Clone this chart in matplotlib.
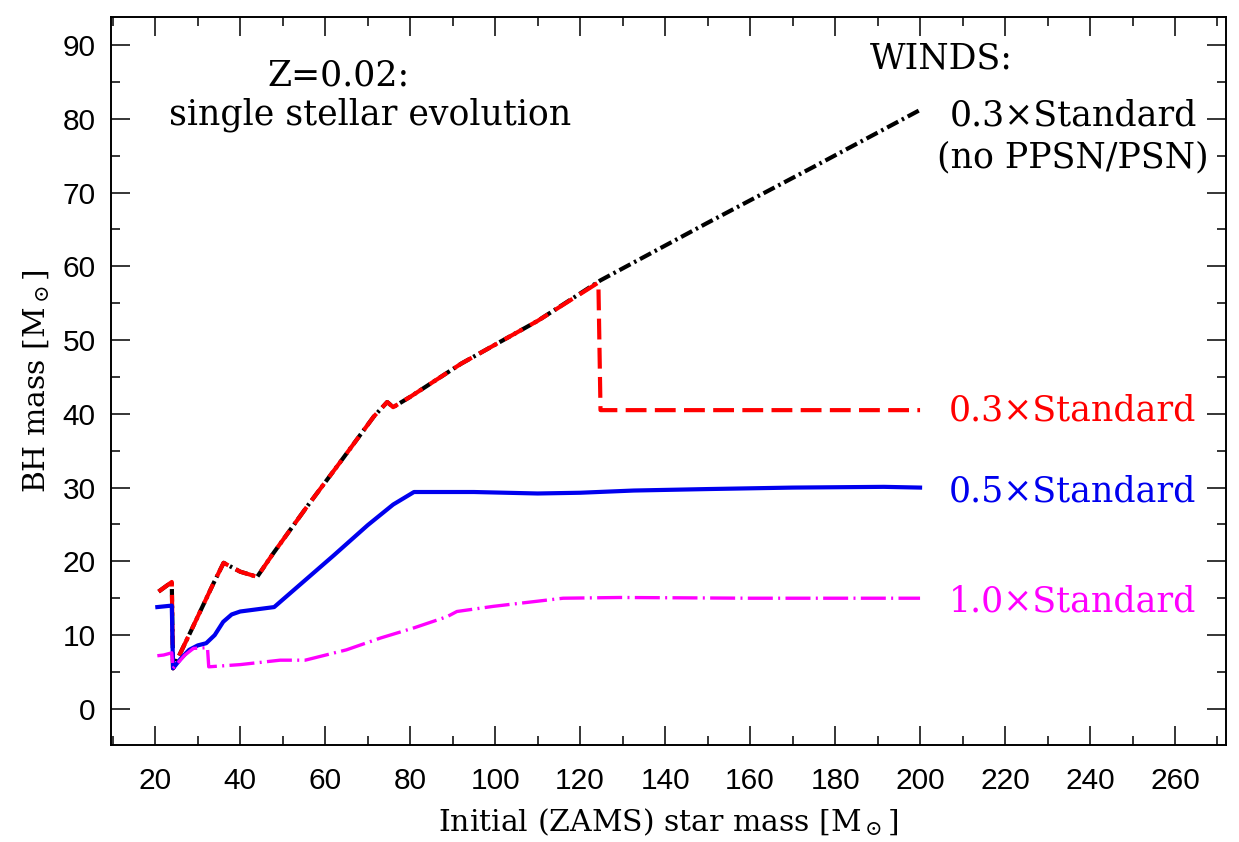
#!/usr/bin/env python3

import matplotlib
matplotlib.use("Agg")
import matplotlib.pyplot as plt
from matplotlib.ticker import MultipleLocator


# =========================
# Data
# =========================
# 0.3 x Standard winds, no PPSN/PSN (black)
x_nopsn = [20.8, 23.9, 24.2, 28.2, 33.7, 36.1, 40.0, 44.0, 47.8, 55.7, 63.6, 71.4,
           74.6, 76.0, 80.0, 92.0, 110.0, 124.8, 150.0, 175.0, 200.0]
y_nopsn = [15.9, 17.2, 5.5, 10.3, 17.0, 19.8, 18.6, 17.9, 21.1, 27.4, 33.5, 39.6,
           41.6, 40.9, 42.3, 46.8, 52.6, 58.1, 65.9, 73.5, 81.2]

# 0.3 x Standard winds (red)
x_03 = [20.8, 23.9, 24.2, 28.2, 33.7, 36.1, 40.0, 44.0, 47.8, 55.7, 63.6, 71.4,
        74.6, 76.0, 80.0, 92.0, 110.0, 124.3, 124.8, 150.0, 175.0, 200.0]
y_03 = [15.9, 17.2, 5.5, 10.3, 17.0, 19.8, 18.6, 17.9, 21.1, 27.4, 33.5, 39.6,
        41.6, 40.9, 42.3, 46.8, 52.6, 57.8, 40.5, 40.5, 40.5, 40.5]

# 0.5 x Standard winds (blue)
x_05 = [20.5, 23.9, 24.2, 26.0, 28.0, 30.0, 32.0, 34.0, 36.0, 38.0, 40.0, 44.0,
        48.0, 55.0, 62.0, 70.0, 76.0, 80.9, 95.0, 110.0, 120.0, 132.6, 150.0,
        170.0, 191.5, 200.0]
y_05 = [13.8, 14.0, 5.5, 6.8, 8.0, 8.6, 8.9, 10.0, 11.8, 12.8, 13.2, 13.5,
        13.8, 17.3, 20.8, 24.9, 27.7, 29.4, 29.4, 29.2, 29.3, 29.6, 29.8,
        30.0, 30.1, 30.0]

# 1.0 x Standard winds (magenta)
x_10 = [20.5, 22.0, 23.9, 24.2, 27.0, 29.0, 32.3, 32.6, 40.0, 49.4, 55.3, 65.0,
        73.0, 81.0, 88.7, 91.0, 99.6, 116.0, 129.5, 160.0, 200.0]
y_10 = [7.2, 7.3, 7.6, 5.5, 7.3, 8.2, 8.3, 5.7, 6.0, 6.6, 6.6, 8.0,
        9.6, 11.0, 12.5, 13.2, 13.9, 15.0, 15.1, 15.0, 15.0]

x_ticks = [20, 40, 60, 80, 100, 120, 140, 160, 180, 200, 220, 240, 260]
y_ticks = [0, 10, 20, 30, 40, 50, 60, 70, 80, 90]

labels = ["0.3×Standard", "0.5×Standard", "1.0×Standard"]
label_y = [40.5, 29.5, 14.5]
colors = ["#ff0000", "#0000ee", "#ff00ff"]


def main():
    plt.rcParams["mathtext.fontset"] = "dejavuserif"
    fig = plt.figure(figsize=(12.39, 8.42), dpi=100)
    ax = fig.add_axes([0.0896, 0.1152, 0.8999, 0.8646])

    ax.plot(x_nopsn, y_nopsn, color="black", lw=3.0,
            linestyle=(0, (3.0, 1.0, 0.6, 1.0)), zorder=2)
    ax.plot(x_03, y_03, color=colors[0], lw=3.0,
            linestyle=(0, (5.0, 2.0)), zorder=3)
    ax.plot(x_05, y_05, color=colors[1], lw=3.0, linestyle="-", zorder=3)
    ax.plot(x_10, y_10, color=colors[2], lw=2.4,
            linestyle=(0, (7.5, 1.6, 0.6, 1.6)), zorder=3)

    ax.set_xlim(9.6, 272)
    ax.set_ylim(-4.9, 93.8)
    ax.set_xticks(x_ticks)
    ax.set_yticks(y_ticks)
    ax.xaxis.set_minor_locator(MultipleLocator(10))
    ax.yaxis.set_minor_locator(MultipleLocator(5))
    ax.tick_params(which="both", direction="in", top=True, right=True, width=1.1,
                   labelsize=21.5, colors="black")
    ax.tick_params(which="major", length=13.5)
    ax.tick_params(which="minor", length=6.5)
    ax.tick_params(axis="x", which="major", pad=16)
    ax.tick_params(axis="y", which="major", pad=11)
    for lab in ax.get_xticklabels() + ax.get_yticklabels():
        lab.set_family("Liberation Sans")
    for sp in ax.spines.values():
        sp.set_linewidth(1.4)

    ax.set_xlabel(r"Initial (ZAMS) star mass [$\mathrm{M}_\odot$]",
                  family="DejaVu Serif", fontsize=21.5, labelpad=8)
    ax.set_ylabel(r"BH mass [$\mathrm{M}_\odot$]", family="DejaVu Serif",
                  fontsize=21.5, labelpad=8)

    serif = dict(family="DejaVu Serif", fontsize=25)
    ax.text(63.1, 85.9, "Z=0.02:", ha="center", va="center", **serif)
    ax.text(70.6, 80.5, "single stellar evolution", ha="center", va="center", **serif)
    ax.text(205.0, 88.2, "WINDS:", ha="center", va="center", **serif)
    ax.text(236.0, 80.5, "0.3×Standard", ha="center", va="center", **serif)
    ax.text(236.0, 74.8, "(no PPSN/PSN)", ha="center", va="center", **serif)
    for lab, yy, c in zip(labels, label_y, colors):
        ax.text(206.8, yy, lab, ha="left", va="center", color=c, **serif)

    fig.savefig("out.png", dpi=100)
    plt.close(fig)


if __name__ == "__main__":
    main()
